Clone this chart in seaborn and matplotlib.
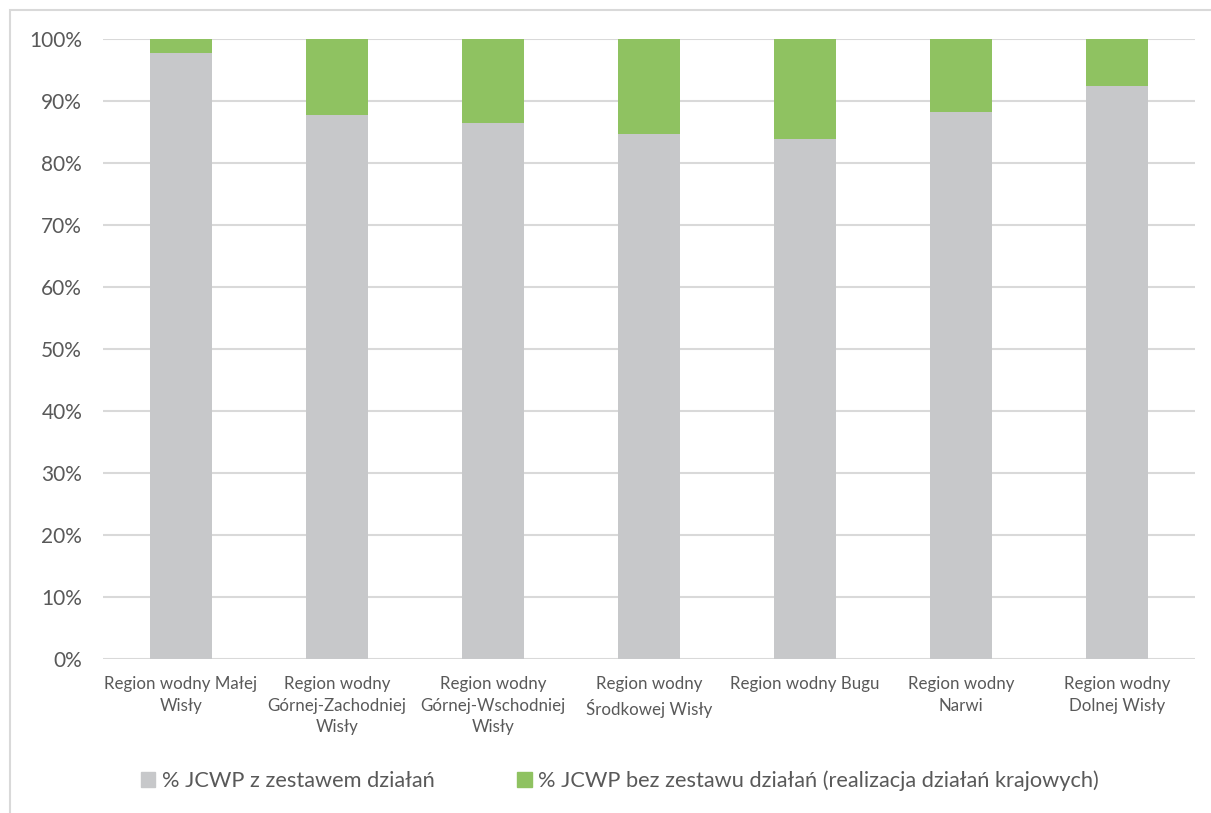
import numpy as np
import pandas as pd
import seaborn as sns
import matplotlib.pyplot as plt
from matplotlib.patches import Rectangle

# ==============================
#  DATA
# ==============================
regions = [
    "Region wodny Małej\nWisły",
    "Region wodny\nGórnej-Zachodniej\nWisły",
    "Region wodny\nGórnej-Wschodniej\nWisły",
    "Region wodny\nŚrodkowej Wisły",
    "Region wodny Bugu",
    "Region wodny\nNarwi",
    "Region wodny\nDolnej Wisły",
]
with_actions = [97.7, 87.8, 86.5, 84.7, 83.9, 88.2, 92.4]
without_actions = [2.3, 12.2, 13.5, 15.3, 16.1, 11.8, 7.6]
y_ticks = [0, 10, 20, 30, 40, 50, 60, 70, 80, 90, 100]
legend_labels = ["% JCWP z zestawem działań",
                 "% JCWP bez zestawu działań (realizacja działań krajowych)"]

gray = "#c7c8ca"
green = "#8fc261"
text_col = "#595959"

df = pd.DataFrame({
    "region": regions,
    "with": with_actions,
    "total": np.array(with_actions) + np.array(without_actions),
})

# ==============================
#  PLOT
# ==============================
sns.set_theme(style="white")
plt.rcParams["font.family"] = ["Lato", "DejaVu Sans"]

fig = plt.figure(figsize=(12.11, 8.13), dpi=100)
ax = fig.add_axes([103 / 1211, 1 - 659 / 813, (1195 - 103) / 1211, (659 - 39) / 813])

sns.barplot(data=df, x="region", y="total", color=green, width=0.4,
            saturation=1, linewidth=0, ax=ax, zorder=2)
sns.barplot(data=df, x="region", y="with", color=gray, width=0.4,
            saturation=1, linewidth=0, ax=ax, zorder=3)

ax.set_ylim(0, 100)
ax.set_xlim(-0.5, len(regions) - 0.5)
ax.set_yticks(y_ticks)
ax.set_yticklabels([f"{t}%" for t in y_ticks], fontsize=15, color=text_col)
ax.set_xticks(range(len(regions)))
ax.set_xticklabels(regions, fontsize=12.2, color=text_col, linespacing=1.45)
ax.tick_params(axis="both", length=0)
ax.tick_params(axis="y", pad=15)
ax.tick_params(axis="x", pad=12)
ax.set_xlabel("")
ax.set_ylabel("")
ax.yaxis.grid(True, color="#d9d9d9", linewidth=1.5, zorder=0)
ax.set_axisbelow(True)
for s in ax.spines.values():
    s.set_visible(False)

handles = [Rectangle((0, 0), 1, 1, color=gray), Rectangle((0, 0), 1, 1, color=green)]
leg = fig.legend(handles, legend_labels, loc="center", bbox_to_anchor=(620 / 1211, 1 - 781 / 813),
                 ncol=2, frameon=False, fontsize=15.7, handlelength=0.65, handleheight=0.65,
                 handletextpad=0.3, columnspacing=3.8)
for t in leg.get_texts():
    t.set_color(text_col)

# outer chart frame (only top/left edges visible in the crop)
fig.patches.append(Rectangle((10 / 1211, -0.1), 1.2, 1 - 10 / 813 + 0.1,
                             transform=fig.transFigure, fill=False,
                             edgecolor="#d9d9d9", linewidth=1.5))

fig.savefig("out.png", dpi=100)
